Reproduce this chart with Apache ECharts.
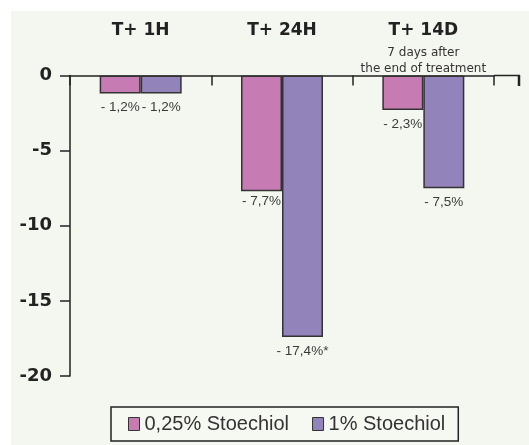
<!DOCTYPE html>
<html><head><meta charset="utf-8">
<script src="https://cdn.jsdelivr.net/npm/echarts@6/dist/echarts.min.js"></script>
<style>
html,body{margin:0;padding:0;background:#fff;}
#panel{position:absolute;left:11px;top:11px;width:518px;height:434px;background:#f4f7ef;}
#c{width:518px;height:434px;}
</style></head>
<body><div id="panel"><div id="c"></div></div>
<script>
const categories = ['T+ 1H', 'T+ 24H', 'T+ 14D'];
const subtitles = ['', '', '7 days after\nthe end of treatment'];
const seriesNames = ['0,25% Stoechiol', '1% Stoechiol'];
const values025 = [-1.2, -7.7, -2.3];
const values1 = [-1.2, -17.4, -7.5];
const labels025 = ['- 1,2%', '- 7,7%', '- 2,3%'];
const labels1 = ['- 1,2%', '- 17,4%*', '- 7,5%'];
const yTicks = [0, -5, -10, -15, -20];

const chart = echarts.init(document.getElementById('c'));
const sans = 'Liberation Sans, Arial, sans-serif';
const wide = 'DejaVu Sans, sans-serif';
function catLabel(v, i) {
  const sub = subtitles[i] ? subtitles[i].split('\n') : [' ', ' '];
  return '{b|' + v + '}\n{s|' + sub[0] + '}\n{t|' + sub[1] + '}';
}
function mkSeries(name, vals, labs, color, closeIdx) {
  return {
    name: name, type: 'bar', barWidth: 41, barGap: '0%',
    data: vals.map((v, i) => i === closeIdx ? { value: v, label: { distance: 3 } } : v),
    itemStyle: { color: color, borderColor: '#333', borderWidth: 1.5 },
    label: {
      show: true, position: 'bottom', distance: 7,
      fontFamily: sans, fontSize: 13.5, color: '#3a3a3a',
      formatter: p => labs[p.dataIndex]
    }
  };
}
chart.setOption({
  animation: false,
  grid: { left: 59, top: 64.5, right: 35, bottom: 69 },
  xAxis: {
    type: 'category', position: 'top', data: categories,
    axisLine: { lineStyle: { color: '#222', width: 1.5 } },
    axisTick: { show: true, interval: 0, inside: true, length: 10, lineStyle: { color: '#222', width: 1.5 } },
    axisLabel: {
      margin: 0, interval: 0,
      formatter: catLabel,
      rich: {
        b: { fontFamily: wide, fontSize: 17, fontWeight: 'bold', color: '#222', lineHeight: 27 },
        s: { fontFamily: wide, fontSize: 12, color: '#333', lineHeight: 17 },
        t: { fontFamily: wide, fontSize: 12, color: '#333', lineHeight: 14 }
      }
    }
  },
  yAxis: {
    type: 'value', min: -20, max: 0, interval: 5,
    axisLine: { show: true, lineStyle: { color: '#222', width: 1.5 } },
    axisTick: { show: true, length: 10, lineStyle: { color: '#222', width: 1.5 } },
    splitLine: { show: false },
    axisLabel: {
      margin: 18, fontFamily: wide, fontSize: 18, fontWeight: 'bold', color: '#222',
      formatter: v => yTicks.indexOf(v) >= 0 ? String(v) : ''
    }
  },
  legend: {
    top: 396, left: 100,
    data: seriesNames,
    icon: 'rect', itemWidth: 11, itemHeight: 13, itemGap: 23,
    padding: [7, 13, 7, 17],
    borderColor: '#222', borderWidth: 1.5,
    backgroundColor: '#f6f8f2',
    textStyle: { fontFamily: sans, fontSize: 20, color: '#333' },
    itemStyle: { borderColor: '#333', borderWidth: 1 }
  },
  graphic: [
    { type: 'line', shape: { x1: 483, y1: 64.5, x2: 509, y2: 64.5 }, style: { stroke: '#222', lineWidth: 1.5 } },
    { type: 'line', shape: { x1: 508, y1: 64, x2: 508, y2: 75 }, style: { stroke: '#222', lineWidth: 2.5 } }
  ],
  series: [
    mkSeries(seriesNames[0], values025, labels025, '#c67bb3', 1),
    mkSeries(seriesNames[1], values1, labels1, '#9283bb', -1)
  ]
});
</script></body></html>
